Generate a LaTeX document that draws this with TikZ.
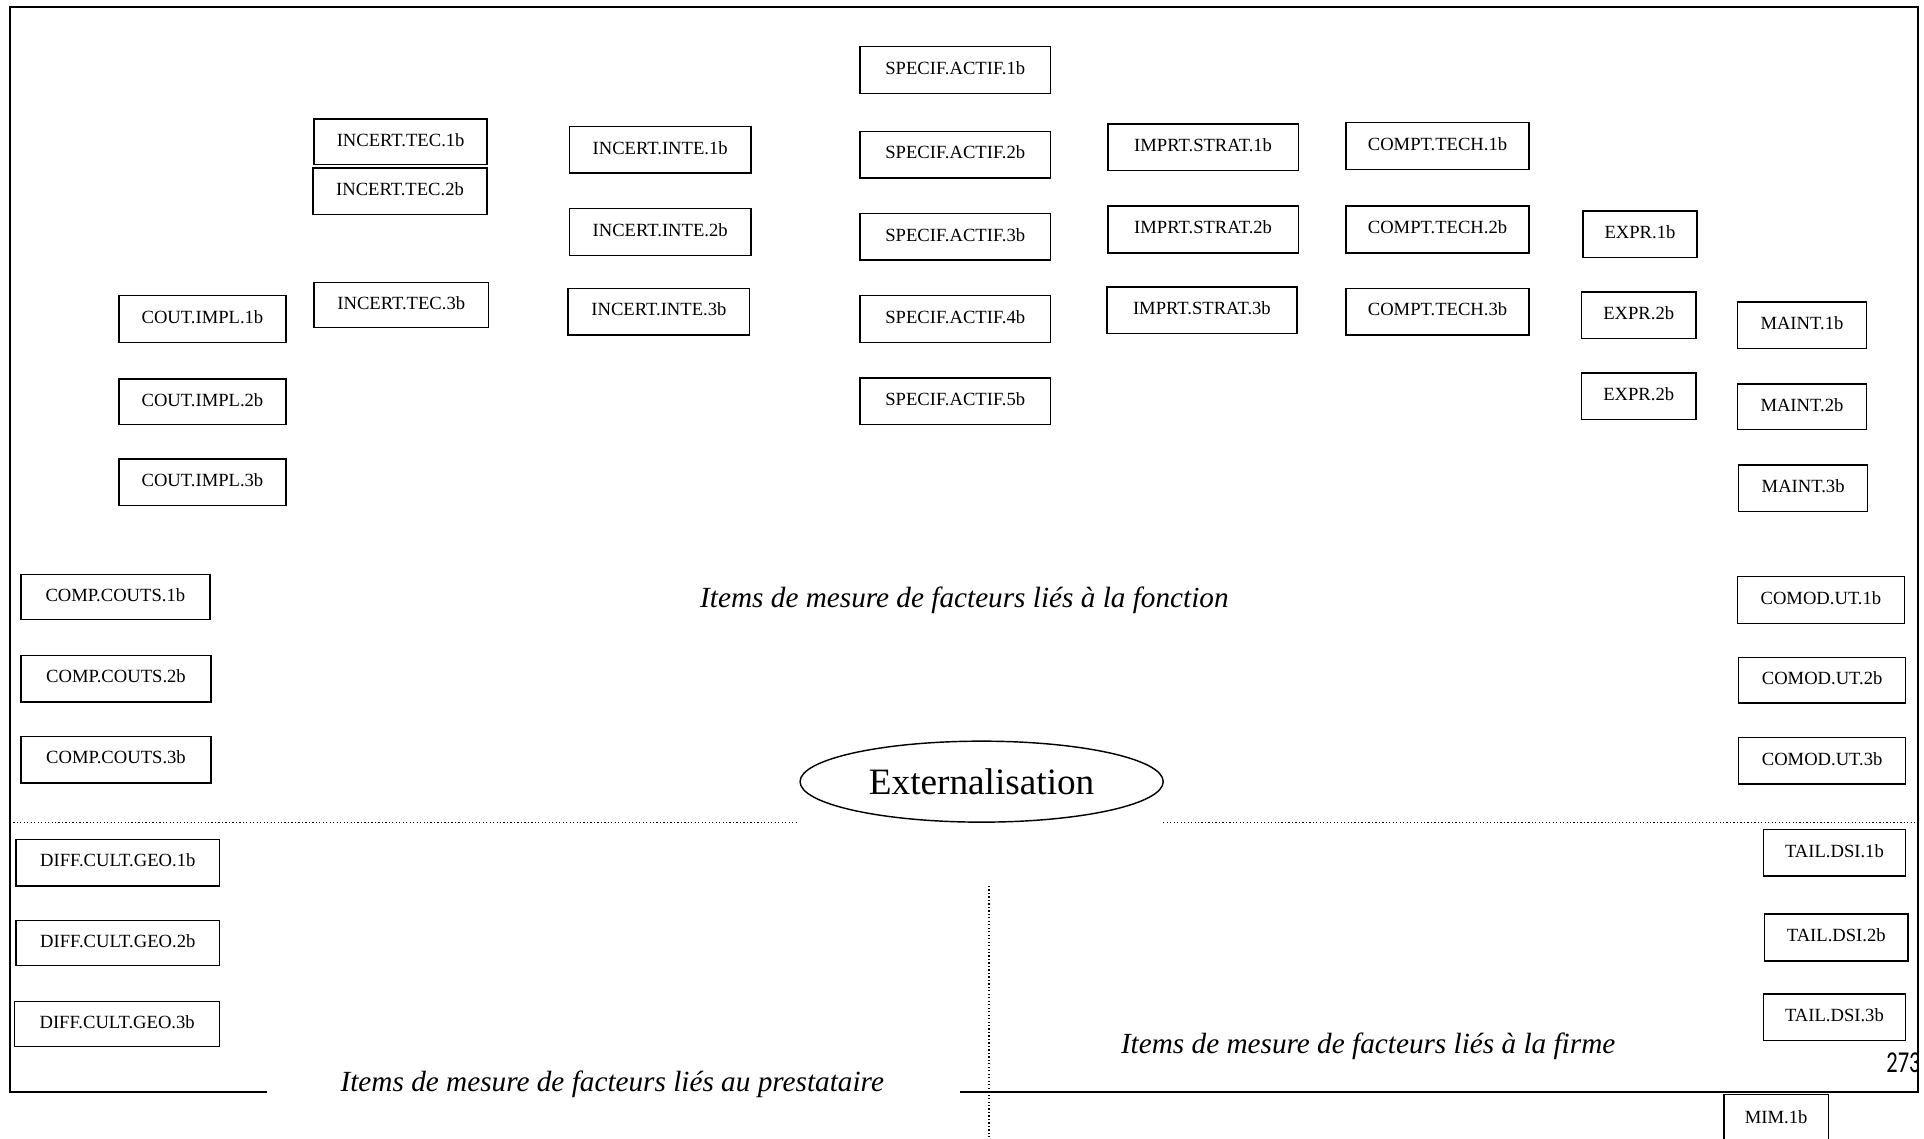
\documentclass[tikz,border=0pt]{standalone}
\usepackage{fontspec}
\setmainfont{Liberation Serif}
\newfontfamily\numfont{Carlito}
\usetikzlibrary{shapes.geometric}

\tikzset{
  itm/.style={draw, rectangle, line width=0.7pt, inner sep=0pt,
    text height=6.3pt, text depth=2.1pt,
    font=\fontsize{9.1}{10}\selectfont},
  frameline/.style={line width=1pt},
  sepline/.style={line width=0.6pt, dash pattern=on 0.6pt off 1.1pt},
  lbl/.style={font=\fontsize{14.3}{16}\selectfont\itshape, inner sep=0pt},
  extell/.style={draw, ellipse, line width=0.7pt, inner sep=0pt,
    font=\fontsize{18.2}{20}\selectfont},
}

\newcommand\mkbox[6]{%
  \pgfmathsetmacro\bw{(#4-#2)*0.6}%
  \pgfmathsetmacro\bh{(#5-#3)*0.6}%
  \node[itm, minimum width=\bw pt, minimum height=\bh pt] (#1) at ({(#2+#4)/2},{(#3+#5)/2}) {#6};%
}

\begin{document}
\begin{tikzpicture}[x=0.6pt, y=-0.6pt]
\useasboundingbox (0,0) rectangle (1568,928);

% frame
\draw[frameline] (218,890) -- (8,890) -- (8,6) -- (1563,6) -- (1563,890) -- (782,890);

% separators
\draw[sepline] (8,670) -- (650,670);
\draw[sepline] (948,670) -- (1563,670);
\draw[sepline] (806,722) -- (806,928);

% central ellipse
\node[extell, minimum width=177.6pt, minimum height=39.6pt] (ext) at (800,637) {Externalisation};

% labels
\node[lbl] (lfonc) at (786,489) {Items de mesure de facteurs liés à la fonction};
\node[lbl] (lprest) at (499,884) {Items de mesure de facteurs liés au prestataire};
\node[lbl] (lfirme) at (1115,853) {Items de mesure de facteurs liés à la firme};

% SPECIF.ACTIF
\mkbox{spa1}{701}{38}{856}{76}{SPECIF.ACTIF.1b}
\mkbox{spa2}{701}{107}{856}{145}{SPECIF.ACTIF.2b}
\mkbox{spa3}{701}{174}{856}{212}{SPECIF.ACTIF.3b}
\mkbox{spa4}{701}{241}{856}{279}{SPECIF.ACTIF.4b}
\mkbox{spa5}{701}{308}{856}{346}{SPECIF.ACTIF.5b}

% INCERT.TEC
\mkbox{itec1}{256}{97}{397}{134}{INCERT.TEC.1b}
\mkbox{itec2}{255}{137}{397}{175}{INCERT.TEC.2b}
\mkbox{itec3}{256}{230}{398}{267}{INCERT.TEC.3b}

% INCERT.INTE
\mkbox{iint1}{464}{103}{612}{141}{INCERT.INTE.1b}
\mkbox{iint2}{464}{170}{612}{208}{INCERT.INTE.2b}
\mkbox{iint3}{463}{235}{611}{273}{INCERT.INTE.3b}

% IMPRT.STRAT
\mkbox{imp1}{903}{101}{1058}{139}{IMPRT.STRAT.1b}
\mkbox{imp2}{903}{168}{1058}{206}{IMPRT.STRAT.2b}
\mkbox{imp3}{902}{234}{1057}{272}{IMPRT.STRAT.3b}

% COMPT.TECH
\mkbox{ctec1}{1097}{100}{1246}{138}{COMPT.TECH.1b}
\mkbox{ctec2}{1097}{168}{1246}{206}{COMPT.TECH.2b}
\mkbox{ctec3}{1097}{235}{1246}{273}{COMPT.TECH.3b}

% EXPR
\mkbox{expr1}{1290}{172}{1383}{210}{EXPR.1b}
\mkbox{expr2}{1289}{238}{1382}{276}{EXPR.2b}
\mkbox{expr3}{1289}{304}{1382}{342}{EXPR.2b}

% MAINT
\mkbox{maint1}{1416}{246}{1521}{284}{MAINT.1b}
\mkbox{maint2}{1416}{313}{1521}{350}{MAINT.2b}
\mkbox{maint3}{1417}{379}{1522}{417}{MAINT.3b}

% COUT.IMPL
\mkbox{cimp1}{97}{241}{233}{279}{COUT.IMPL.1b}
\mkbox{cimp2}{97}{309}{233}{346}{COUT.IMPL.2b}
\mkbox{cimp3}{97}{374}{233}{412}{COUT.IMPL.3b}

% COMP.COUTS
\mkbox{ccout1}{17}{468}{171}{505}{COMP.COUTS.1b}
\mkbox{ccout2}{17}{534}{172}{572}{COMP.COUTS.2b}
\mkbox{ccout3}{17}{600}{172}{638}{COMP.COUTS.3b}

% COMOD.UT
\mkbox{comod1}{1416}{470}{1552}{508}{COMOD.UT.1b}
\mkbox{comod2}{1417}{536}{1553}{573}{COMOD.UT.2b}
\mkbox{comod3}{1417}{601}{1553}{639}{COMOD.UT.3b}

% DIFF.CULT.GEO
\mkbox{dcg1}{13}{684}{179}{722}{DIFF.CULT.GEO.1b}
\mkbox{dcg2}{13}{750}{179}{787}{DIFF.CULT.GEO.2b}
\mkbox{dcg3}{12}{816}{179}{853}{DIFF.CULT.GEO.3b}

% TAIL.DSI
\mkbox{tail1}{1437}{676}{1553}{714}{TAIL.DSI.1b}
\mkbox{tail2}{1438}{745}{1555}{783}{TAIL.DSI.2b}
\mkbox{tail3}{1437}{810}{1553}{848}{TAIL.DSI.3b}

% MIM (cut by the page edge)
\mkbox{mim1}{1405}{892}{1490}{932}{MIM.1b}

% page number, cut at the frame
\begin{scope}
  \clip (1500,840) rectangle (1563,885);
  \node[font=\numfont\fontsize{11}{12}\selectfont, anchor=west, inner sep=0pt] (pgnum) at (1537,866) {\scalebox{1}[1.35]{273}};
\end{scope}
\end{tikzpicture}
\end{document}
